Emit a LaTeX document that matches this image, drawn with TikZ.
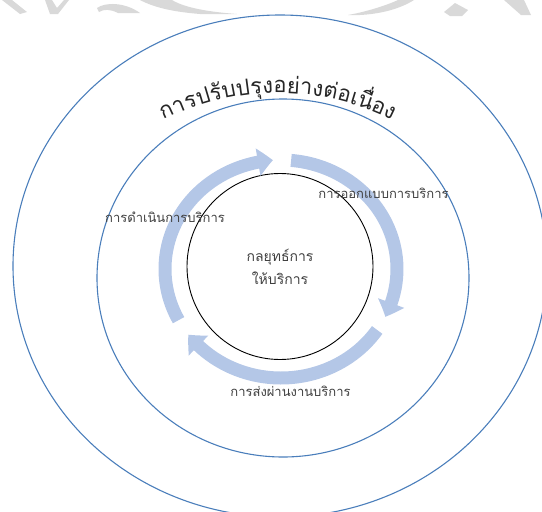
\documentclass[tikz,border=0pt]{standalone}
\usepackage{fontspec}
\newfontfamily\thai[Script=Thai]{Loma}
\usetikzlibrary{arrows.meta,bending,decorations.text,shapes.geometric}
\definecolor{ringblue}{HTML}{4A7EBB}
\definecolor{flowblue}{HTML}{B4C7E7}
\definecolor{labelgray}{HTML}{404040}
\definecolor{titleink}{HTML}{262626}
\definecolor{markgray}{HTML}{D9D9D9}

\begin{document}
\begin{tikzpicture}[x=1pt,y=1pt,
  ring/.style={draw=ringblue,line width=1.1pt,ellipse,inner sep=0pt},
  flow/.style={draw=flowblue,line width=13pt,-{Triangle[width=27pt,length=15pt,bend]}},
  stagetext/.style={text=labelgray,font=\thai\fontsize{13}{15}\selectfont,inner sep=0pt},
  emblem/.style={fill=markgray,draw=none}]
\useasboundingbox (0,0) rectangle (542,-512);

% light grey emblem fragments along the top edge
\begin{scope}[y=-1pt]
\fill[emblem] (2,0) -- (12,0) -- (27,12) -- (20,14) -- cycle;
\fill[emblem] (45,0) -- (52,0) -- (57,8) -- (64,0) -- (69,0) -- (58,14) -- (50,14) -- cycle;
\fill[emblem] (97,8) .. controls (105,2) and (125,2) .. (140,13) -- (118,13) .. controls (110,9) and (104,9) .. (99,12) -- cycle;
\fill[emblem] (140,0) -- (172,0) .. controls (185,8) and (210,12) .. (237,14) -- (200,14) .. controls (175,12) and (155,8) .. cycle;
\fill[emblem] (348,15) .. controls (365,12) and (385,6) .. (398,0) -- (414,0) .. controls (400,9) and (380,14) .. (360,15) -- cycle;
\fill[emblem] (444,12) -- (455,3) -- (468,10) -- (462,16) -- (450,16) -- cycle;
\fill[emblem] (504,0) -- (524,0) -- (531,15) -- (521,15) -- cycle;
\end{scope}

% rings
\node[ring,minimum width=534pt,minimum height=502pt] (outer) at (280,-266) {};
\node[ring,minimum width=372pt,minimum height=358pt] (middle) at (283,-278) {};
\node[draw=black,line width=0.9pt,circle,minimum size=186pt,inner sep=0pt] (core) at (280,-266.5) {};
\node[stagetext,align=center,font=\thai\fontsize{14}{23}\selectfont] (strategy) at (core.center) {กลยุทธ์การ\\ให้บริการ};

% cycle of three arrows round the core
\coordinate (hub) at (281,-269);
\draw[flow] (hub) ++(85:116 and 109) arc[start angle=85,end angle=-26,x radius=116,y radius=109];
\draw[flow] (hub) ++(-34:116 and 109) arc[start angle=-34,end angle=-143,x radius=116,y radius=109];
\draw[flow] (hub) ++(208:116 and 109) arc[start angle=208,end angle=94,x radius=116,y radius=109];

% stage labels
\node[stagetext] (design) at (383.5,-193) {การออกแบบการบริการ};
\node[stagetext] (operate) at (165,-217) {การดำเนินการบริการ};
\node[stagetext] (deliver) at (290.5,-391) {การส่งผ่านงานบริการ};

% curved heading between the rings
\path[decorate,decoration={text along path,text align=center,
  text={|\thai\fontsize{22}{26}\selectfont\color{titleink}|{ก}{า}{ร}{ป}{รั}{บ}{ป}{รุ}{ง}{อ}{ย่}{า}{ง}{ต่}{อ}{เ}{นื่}{อ}{ง}}}]
  (278,-348) ++(122:255) arc[start angle=122,end angle=58,radius=255];
\end{tikzpicture}
\end{document}
